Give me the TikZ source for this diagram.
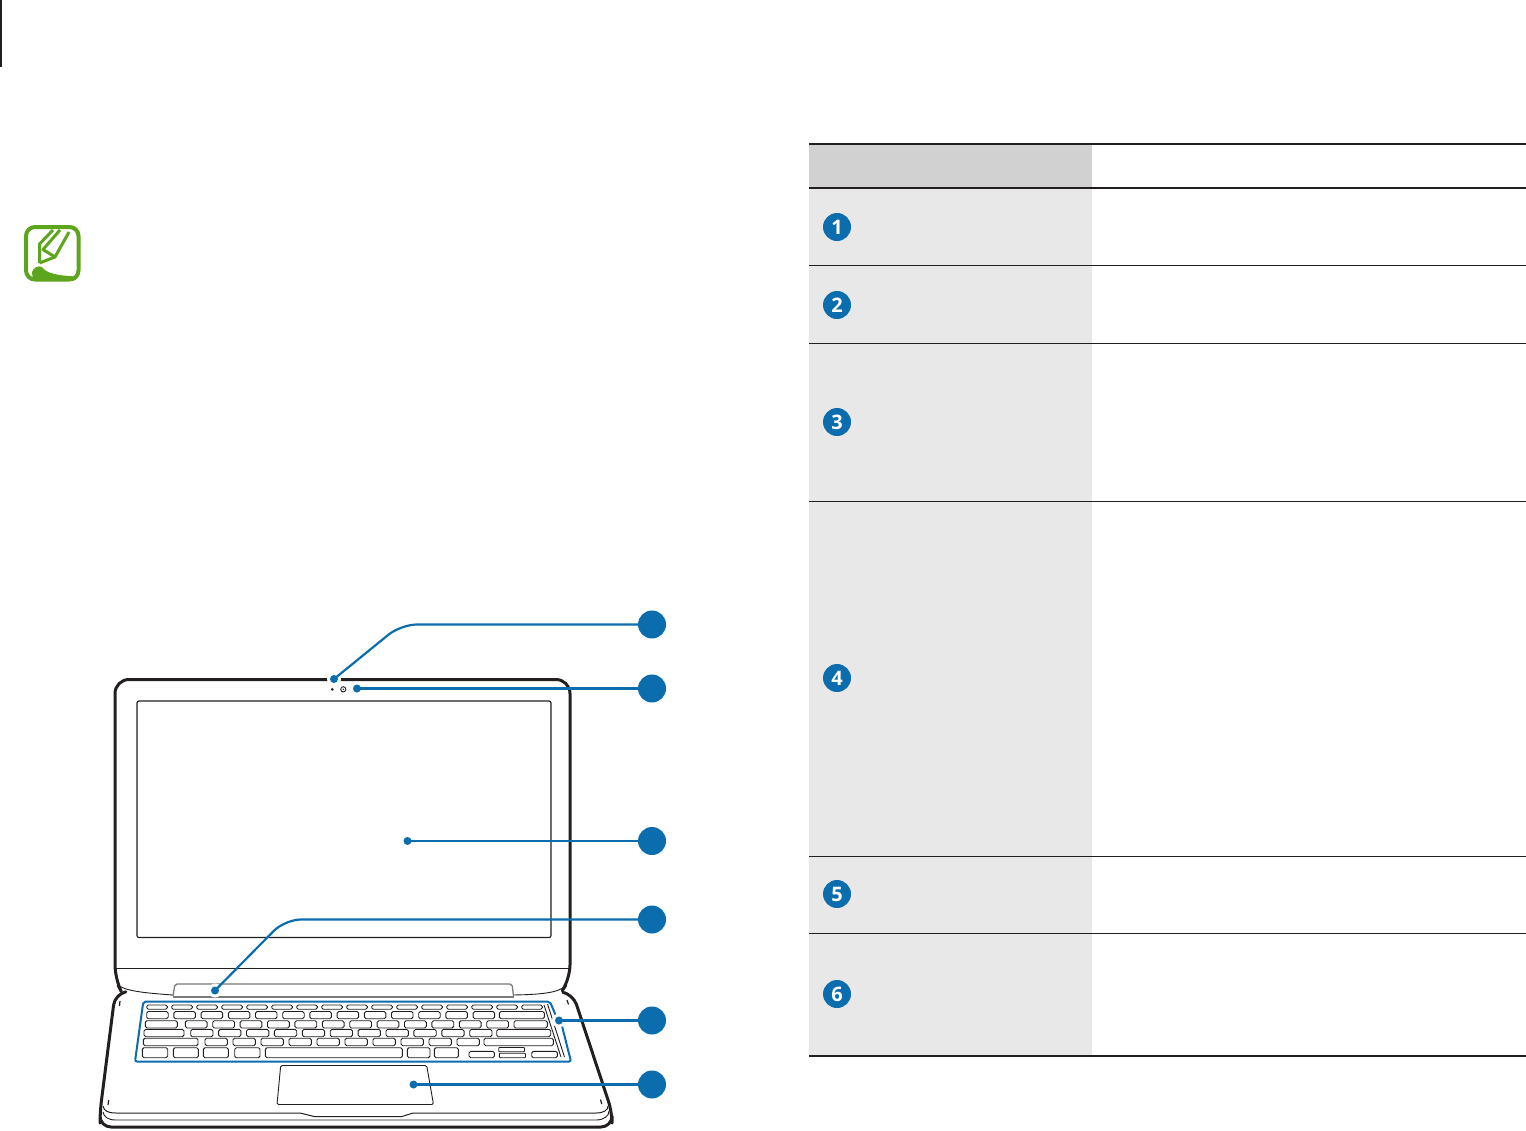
\documentclass[tikz,border=0pt]{standalone}
\usepackage{fontspec}
\setmainfont{Open Sans}
\usetikzlibrary{backgrounds}
\definecolor{sblue}{HTML}{0B6CAE}
\definecolor{sgreen}{HTML}{5EA51E}
\definecolor{hdr}{HTML}{D1D1D1}
\definecolor{cellg}{HTML}{E8E8E8}
\definecolor{ink}{HTML}{231F20}
\tikzset{
  x=1pt,y=-1pt,
  key/.style={draw=ink,line width=0.9pt,fill=white,rounded corners=1.6pt},
  edgeline/.style={draw=ink,line width=3pt,line join=round},
  thinline/.style={draw=ink,line width=0.9pt},
  greyline/.style={draw=ink!60,line width=1.3pt},
  callout/.style={circle,fill=sblue,minimum size=28pt,inner sep=0pt,outer sep=0pt},
  dotnode/.style={circle,fill=sblue,minimum size=8pt,inner sep=0pt,outer sep=0pt},
  numnode/.style={circle,fill=sblue,minimum size=28pt,inner sep=0pt,outer sep=0pt,text=white,font=\fontsize{20}{20}\selectfont\bfseries},
  leader/.style={draw=sblue,line width=2.2pt,rounded corners=16pt},
  halo/.style={fill=white},
  rule/.style={draw=ink,line width=1pt},
  thickrule/.style={draw=ink,line width=2pt},
  pencil/.style={draw=sgreen,line width=3pt,line join=round},
}
\begin{document}
\begin{tikzpicture}
\useasboundingbox (0,0) rectangle (1526,1130);
% corner tick
\draw[ink,line width=1.2pt] (1,0) -- (1,67);
% note icon
\draw[sgreen,line width=4pt,rounded corners=9pt] (26,227) rectangle (78.5,279.5);
\draw[pencil] (53,230) -- (39.5,244) -- (39.5,263);
\draw[pencil] (60,230) -- (43,249.5) -- (55,257) -- (69,232);
\draw[pencil] (39.5,263) -- (55,257);
\fill[sgreen] (32,272) .. controls (33,268) and (38,265) .. (42,267) .. controls (46,273) and (56,275.5) .. (76,276.5) -- (76,279.5) -- (36,279.5) .. controls (33,278) and (31,275) .. (32,272) -- cycle;
% table
\fill[hdr] (809,143) rectangle (1092,187);
\fill[cellg] (809,187) rectangle (1092,1055);
\draw[thickrule] (809,143.5) -- (1526,143.5);
\draw[thickrule] (809,187.5) -- (1526,187.5);
\draw[rule] (809,265.5) -- (1526,265.5);
\draw[rule] (809,343.5) -- (1526,343.5);
\draw[rule] (809,501.5) -- (1526,501.5);
\draw[rule] (809,856.5) -- (1526,856.5);
\draw[rule] (809,933.5) -- (1526,933.5);
\draw[thickrule] (809,1055.5) -- (1526,1055.5);
\node[numnode] (t1) at (837,227) {1};
\node[numnode] (t2) at (837,305) {2};
\node[numnode] (t3) at (837,422) {3};
\node[numnode] (t4) at (837,678) {4};
\node[numnode] (t5) at (837,894) {5};
\node[numnode] (t6) at (837,994) {6};
% callouts
\node[callout] (n1) at (652,624.5) {};
\node[callout] (n2) at (652,688.5) {};
\node[callout] (n3) at (652,841) {};
\node[callout] (n4) at (652,919.5) {};
\node[callout] (n5) at (652,1020.5) {};
\node[callout] (n6) at (652,1084.5) {};
\node[dotnode] (d1) at (334,679) {};
\node[dotnode] (d2) at (357,688.5) {};
\node[dotnode] (d3) at (407.5,841) {};
\node[dotnode] (d4) at (215,990.5) {};
\node[dotnode] (d5) at (559,1020.5) {};
\node[dotnode] (d6) at (413.5,1084.5) {};
\coordinate (k1) at (401,624.5);
\coordinate (k4) at (285,919.5);
\begin{scope}[on background layer]
% base
\filldraw[edgeline,fill=white,rounded corners=11pt] (125,992) -- (115,994) -- (100,1112) -- (100,1127) -- (612,1127) -- (612,1112) -- (573,994) -- (562,992);
\draw[thinline,line width=1pt] (103,1106) .. controls (104,1111) and (108,1113) .. (116,1113) -- (300,1113) -- (314,1116.5) -- (402,1116.5) -- (413,1113) -- (596,1113) .. controls (604,1113) and (608,1110) .. (608,1106);
\draw[thinline] (103,1112) .. controls (104,1117) and (108,1120) .. (116,1120) -- (596,1120) .. controls (604,1120) and (609,1116) .. (609,1111);
\draw[thinline,line width=1.2pt] (120,1001) -- (119.5,1006);
\draw[thinline,line width=1.2pt] (108.7,1100) -- (108,1105);
\draw[thinline,line width=1.2pt] (567,1000) -- (568.5,1004.5);
\draw[thinline,line width=1.2pt] (600.5,1099.5) -- (601.7,1104);
% lid
\draw[edgeline,rounded corners=14pt] (118,985) -- (115,979) -- (115,679.5) -- (570,679.5) -- (570,979) -- (566,985);
\draw[thinline] (118,985) .. controls (125,991) and (145,993) .. (173,995);
\draw[thinline] (513,995) .. controls (540,994.5) and (560,993) .. (566,985);
\draw[thinline] (116,968) -- (569,968);
\draw[thinline,line width=1.2pt,rounded corners=2pt] (137,701) rectangle (551,937.5);
% hinge
\draw[greyline,rounded corners=2pt] (173,996) -- (175,984) -- (512,984) -- (513.5,996);
\draw[greyline] (173,997) -- (513.5,997);
% camera marks
\fill[ink] (332.3,689.3) circle (1.5pt);
\draw[ink,line width=0.9pt] (343.3,689.3) circle (2.6pt);
\fill[ink] (343.3,689.3) circle (0.8pt);
% trackpad
\draw[thinline,rounded corners=1.5pt] (280.7,1065.5) -- (426.7,1065.5) -- (433.5,1104.5) -- (277,1104.5) -- cycle;
% keyboard frame
\draw[sblue,line width=2pt,rounded corners=2pt] (556,1016) -- (550,1001.7) -- (143.3,1001.7) -- (135,1061.5) -- (571,1061.5) -- (562,1026);
% keyboard side lines
\draw[thinline] (544,1005) -- (561,1057);
\draw[thinline] (547.5,1004) -- (564.5,1057);
% row 1
\foreach \i in {0,...,15} {\pgfmathsetmacro\a{146.7+25*\i}
  \draw[key] (\a,1005) rectangle ++(20.6,4.2);}
% row 2
\foreach \i in {0,...,12} {\pgfmathsetmacro\a{146.7+27.2*\i}
  \draw[key] (\a,1011.5) rectangle ++(21.5,7.2);}
\draw[key] (499.3,1011.5) rectangle (544.3,1018.7);
% row 3
\draw[key] (145.3,1020.7) rectangle (177.3,1028);
\foreach \i in {0,...,11} {\pgfmathsetmacro\a{185.3+27.4*\i}
  \draw[key] (\a,1020.7) rectangle ++(21.8,7.3);}
\draw[key] (514,1020.7) rectangle (547.3,1028);
% row 4
\draw[key] (144,1029.4) rectangle (184,1036.7);
\foreach \i in {0,...,10} {\pgfmathsetmacro\a{190.7+27.9*\i}
  \draw[key] (\a,1029.4) rectangle ++(22.3,7.3);}
\draw[key] (496.7,1029.4) rectangle (550.7,1036.7);
% row 5
\draw[key] (143.3,1038.2) rectangle (198,1045.7);
\foreach \i in {0,...,9} {\pgfmathsetmacro\a{205+28*\i}
  \draw[key] (\a,1038.2) rectangle ++(22.3,7.5);}
\draw[key] (484,1038.2) rectangle (553.3,1045.7);
% row 6
\draw[key] (142.3,1047.7) rectangle (167.7,1057.7);
\draw[key] (173.3,1047.7) rectangle (198.3,1057.7);
\draw[key] (203.3,1047.7) rectangle (228.3,1057.7);
\draw[key] (234.7,1047.7) rectangle (260,1057.7);
\draw[key] (265.3,1047.7) rectangle (402.3,1057.7);
\draw[key] (407.3,1047.7) rectangle (430,1057.7);
\draw[key] (434.3,1047.7) rectangle (458.3,1057.7);
\draw[key] (469,1051.3) rectangle (494.3,1057.7);
\draw[key,rounded corners=0.8pt] (498.7,1047.5) rectangle (524.5,1051.7);
\draw[key,rounded corners=0.8pt] (499.3,1053.2) rectangle (525.5,1057.7);
\draw[key] (531.7,1051.3) rectangle (557.3,1057.7);
% halos
\foreach \d in {d1,d2,d3,d4,d5,d6} {\fill[halo] (\d.center) circle (7pt);}
% connectors
\draw[leader] (d1.center) -- (k1) -- (n1.center);
\draw[leader] (d2.center) -- (n2.center);
\draw[leader] (d3.center) -- (n3.center);
\draw[leader] (d4.center) -- (k4) -- (n4.center);
\draw[leader] (d5.center) -- (n5.center);
\draw[leader] (d6.center) -- (n6.center);
\end{scope}
\end{tikzpicture}
\end{document}
